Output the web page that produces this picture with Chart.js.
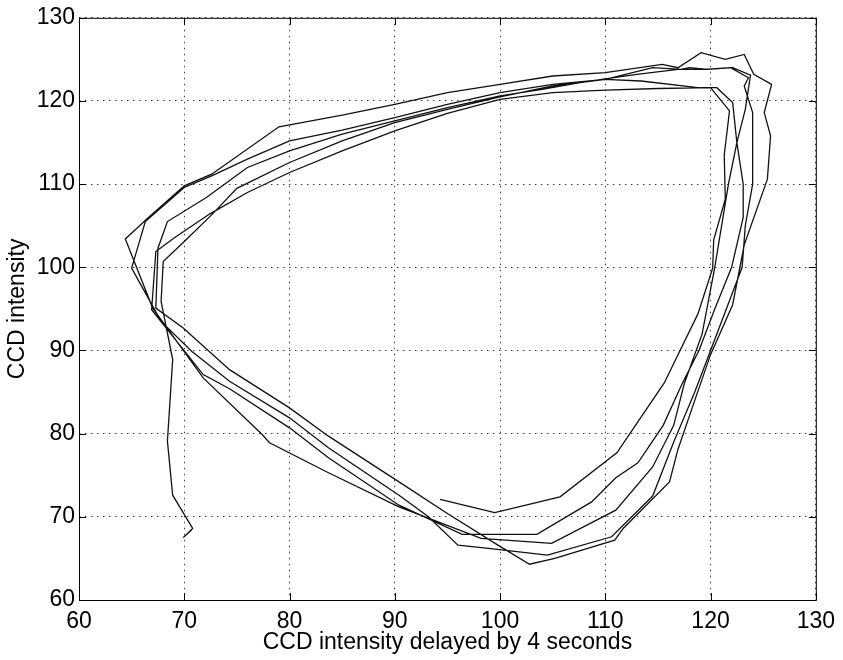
<!DOCTYPE html>
<html>
<head>
<meta charset="utf-8">
<script src="https://cdn.jsdelivr.net/npm/chart.js@4.4.1/dist/chart.umd.min.js"></script>
<style>
  html, body { margin: 0; padding: 0; background: #fff; }
  #wrap { width: 843px; height: 660px; }
</style>
</head>
<body>
<div id="wrap"><canvas id="phaseChart" width="843" height="660"></canvas></div>
<script>
// CCD intensity delayed by 4 s (x) against CCD intensity (y)
const delayed = [
  // first pass, starts inside the bottom
  94.3, 99.5, 105.7, 111.1, 115.6, 118.8, 120.2, 120.3, 121.4, 121.3, 121.8, 120.0,
  115.0, 110.0, 105.0, 100.0, 95.0, 90.0, 85.0, 80.0, 76.0, 72.4, 69.0, 67.3, 66.9,
  71.8, 74.3, 80.0, 83.7, 90.4, 96.4, 103.5, 108.7, 111.0, 113.1,
  // second
  115.5, 117.3, 118.9, 120.4, 122.0, 123.1, 123.1, 122.5, 122.1, 120.6, 118.8, 113.4,
  110.0, 105.0, 100.0, 95.0, 90.0, 85.0, 80.0, 76.0, 72.6, 70.0, 66.3, 65.0, 67.8,
  70.7, 74.3, 80.0, 83.7, 90.4, 93.2, 96.0, 98.9, 104.5, 110.6, 114.5,
  // third
  116.5, 118.5, 120.0, 121.5, 123.0, 123.3, 124.0, 124.0, 124.0, 123.2, 123.6, 121.9,
  119.4, 116.9, 113.0, 108.0, 104.0, 100.0, 95.0, 90.0, 85.0, 80.0, 76.0, 72.1, 68.4,
  67.5, 67.3,
  69.9, 74.3, 80.0, 83.7, 90.4, 95.0, 99.8, 102.8, 105.2, 110.9, 111.7, 116.1,
  // fourth, outermost
  116.9, 118.5, 120.0, 122.1, 123.2, 125.4, 125.7, 125.1, 125.8, 124.1, 123.2, 121.4,
  119.1, 116.9, 115.4, 110.0, 105.0, 100.0, 95.0, 90.0, 85.0, 79.0, 72.6, 70.0, 66.6,
  64.4, 67.0,
  71.8, 77.4, 78.1, 83.7, 90.4, 98.2, 104.9, 111.0,
  // fifth, ends in the tail at lower left
  114.5, 116.5, 117.5, 119.2, 120.4, 121.7, 122.5, 123.3, 123.8, 122.1, 119.7, 118.0,
  117.2, 114.5, 110.0, 105.0, 100.0, 95.0, 90.0, 85.0, 80.0, 75.0, 72.6, 70.0, 68.0,
  67.8,
  68.9, 68.4, 68.9, 70.8, 69.9, 70.7
];

const intensity = [
  72.1, 70.5, 72.4, 77.7, 86.1, 94.4, 99.9, 103.3, 108.2, 113.5, 118.8, 121.6,
  121.5, 121.3, 121.0, 120.2, 118.5, 116.4, 114.0, 111.4, 109.0, 106.4, 103.5, 101.9, 94.9,
  87.1, 85.4, 80.7, 77.1, 71.4, 67.9, 67.9, 71.8, 74.7, 76.5,

  81.0, 86.0, 90.0, 95.0, 100.0, 106.0, 110.0, 115.0, 119.8, 121.6, 121.6, 122.4,
  122.6, 122.0, 121.0, 119.6, 118.0, 116.5, 115.2, 113.0, 111.0, 109.6, 105.5, 99.9, 93.5,
  89.9, 86.3, 81.9, 78.3, 72.6, 70.0, 66.6, 66.2, 65.4, 67.6, 72.5,

  79.0, 85.0, 90.0, 95.0, 100.0, 105.0, 110.0, 114.0, 118.6, 121.8, 122.8, 124.0,
  123.8, 123.8, 123.2, 122.3, 121.4, 120.6, 119.2, 117.6, 116.0, 114.0, 112.0, 108.4, 105.5,
  102.3, 95.1,
  92.7, 87.7, 83.1, 79.7, 74.2, 70.4, 66.6, 64.3, 65.0, 67.2, 68.6, 74.2,

  78.1, 84.0, 89.5, 95.5, 102.7, 110.6, 115.8, 118.6, 122.0, 123.2, 125.6, 125.0,
  125.8, 124.0, 124.4, 123.4, 123.0, 122.0, 121.0, 119.6, 118.3, 116.9, 111.2, 109.8, 106.0,
  103.4, 95.1,
  86.7, 79.9, 78.9, 75.3, 71.2, 67.4, 66.8, 70.8,

  76.0, 81.0, 86.0, 92.0, 100.0, 110.0, 115.0, 119.0, 123.1, 124.0, 123.8, 124.0,
  123.8, 124.0, 122.6, 121.8, 120.5, 119.0, 117.4, 115.2, 112.6, 109.5, 106.3, 103.1, 100.7,
  95.9,
  88.9, 79.1, 72.6, 68.6, 67.5, 68.4
];

const xTicks = [60, 70, 80, 90, 100, 110, 120, 130];
const yTicks = [60, 70, 80, 90, 100, 110, 120, 130];

const points = delayed.map((v, i) => ({ x: v, y: intensity[i] }));

const fontFamily = "'Liberation Sans', Arial, Helvetica, sans-serif";

// box round the plot and inward tick marks, MATLAB style
const axesBox = {
  id: 'axesBox',
  afterDraw(chart) {
    const c = chart.ctx;
    const a = chart.chartArea;
    const xs = chart.scales.x, ys = chart.scales.y;
    const len = 7;
    c.save();
    c.strokeStyle = '#000';
    c.lineWidth = 1;
    c.strokeRect(a.left + 0.5, a.top + 0.5, a.right - a.left, a.bottom - a.top);
    c.beginPath();
    xTicks.forEach(t => {
      const px = Math.round(xs.getPixelForValue(t)) + 0.5;
      c.moveTo(px, a.bottom); c.lineTo(px, a.bottom - len);
      c.moveTo(px, a.top); c.lineTo(px, a.top + len);
    });
    yTicks.forEach(t => {
      const py = Math.round(ys.getPixelForValue(t)) + 0.5;
      c.moveTo(a.left, py); c.lineTo(a.left + len, py);
      c.moveTo(a.right, py); c.lineTo(a.right - len, py);
    });
    c.stroke();
    c.restore();
  }
};

new Chart(document.getElementById('phaseChart'), {
  type: 'scatter',
  data: {
    datasets: [{
      data: points,
      showLine: true,
      borderColor: '#111',
      borderWidth: 1.3,
      pointRadius: 0,
      tension: 0,
      fill: false
    }]
  },
  options: {
    responsive: false,
    animation: false,
    layout: { padding: { top: 15, right: 24, left: 0, bottom: 0 } },
    plugins: {
      legend: { display: false },
      tooltip: { enabled: false }
    },
    scales: {
      x: {
        type: 'linear',
        min: 60,
        max: 130,
        afterBuildTicks: s => { s.ticks = xTicks.map(v => ({ value: v })); },
        afterFit: s => { s.height = 60; },
        grid: { color: 'rgba(0,0,0,0.75)', lineWidth: 1, drawTicks: false },
        border: { display: false, dash: [1.5, 4.5] },
        ticks: { color: '#000', padding: 8, font: { family: fontFamily, size: 23 } },
        title: {
          display: true,
          text: 'CCD intensity delayed by 4 seconds',
          color: '#000',
          padding: { top: 0, bottom: 4 },
          font: { family: fontFamily, size: 23 }
        }
      },
      y: {
        type: 'linear',
        min: 60,
        max: 130,
        afterBuildTicks: s => { s.ticks = yTicks.map(v => ({ value: v })); },
        afterFit: s => { s.width = 79; },
        grid: { color: 'rgba(0,0,0,0.75)', lineWidth: 1, drawTicks: false },
        border: { display: false, dash: [1.5, 4.5] },
        ticks: { color: '#000', padding: 4, font: { family: fontFamily, size: 23 } },
        title: {
          display: true,
          text: 'CCD intensity',
          color: '#000',
          padding: { top: 4, bottom: 0 },
          font: { family: fontFamily, size: 23 }
        }
      }
    }
  },
  plugins: [axesBox]
});
</script>
</body>
</html>
